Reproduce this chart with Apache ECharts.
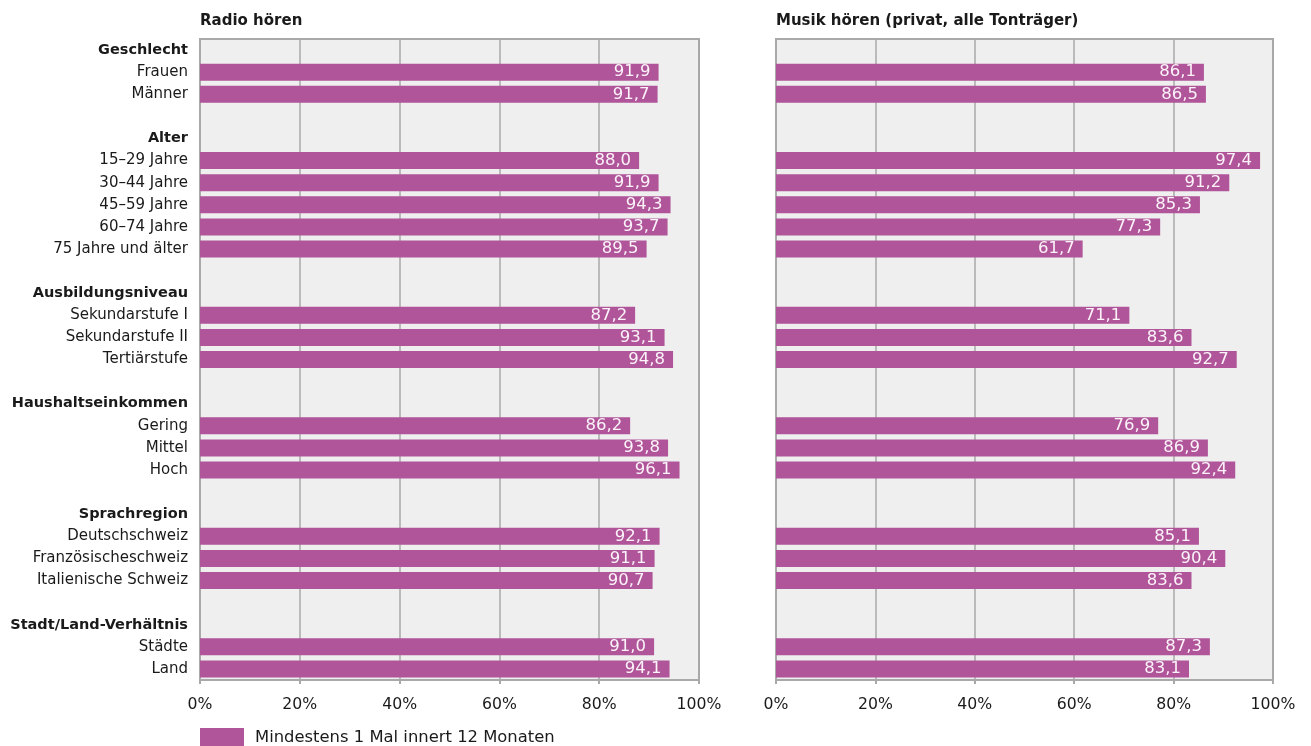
<!DOCTYPE html>
<html>
<head>
<meta charset="utf-8">
<script src="https://cdn.jsdelivr.net/npm/echarts@6/dist/echarts.min.js"></script>
<style>
  html, body { margin: 0; padding: 0; background: #ffffff; }
  #chart { width: 1311px; height: 746px; }
</style>
</head>
<body>
<div id="chart"></div>
<script>
// Group headings and their rows
const groupTitles = ['Geschlecht', 'Alter', 'Ausbildungsniveau', 'Haushaltseinkommen', 'Sprachregion', 'Stadt/Land-Verhältnis'];
const groupItems = [
  ['Frauen', 'Männer'],
  ['15–29 Jahre', '30–44 Jahre', '45–59 Jahre', '60–74 Jahre', '75 Jahre und älter'],
  ['Sekundarstufe I', 'Sekundarstufe II', 'Tertiärstufe'],
  ['Gering', 'Mittel', 'Hoch'],
  ['Deutschschweiz', 'Französischeschweiz', 'Italienische Schweiz'],
  ['Städte', 'Land']
];
// Share (%) with at least one occurrence within 12 months
const radioValues = [
  [91.9, 91.7],
  [88.0, 91.9, 94.3, 93.7, 89.5],
  [87.2, 93.1, 94.8],
  [86.2, 93.8, 96.1],
  [92.1, 91.1, 90.7],
  [91.0, 94.1]
];
const musicValues = [
  [86.1, 86.5],
  [97.4, 91.2, 85.3, 77.3, 61.7],
  [71.1, 83.6, 92.7],
  [76.9, 86.9, 92.4],
  [85.1, 90.4, 83.6],
  [87.3, 83.1]
];
const panelTitles = ['Radio hören', 'Musik hören (privat, alle Tonträger)'];
const seriesName = 'Mindestens 1 Mal innert 12 Monaten';
const xTicks = [0, 20, 40, 60, 80, 100];

// Flatten into rows: heading, items, spacer between groups
const categories = [];
const radioRows = [];
const musicRows = [];
const headerSet = new Set(groupTitles);
groupTitles.forEach((t, g) => {
  if (g > 0) { categories.push(' '.repeat(g)); radioRows.push(null); musicRows.push(null); }
  categories.push(t); radioRows.push(null); musicRows.push(null);
  groupItems[g].forEach((name, i) => {
    categories.push(name);
    radioRows.push(radioValues[g][i]);
    musicRows.push(musicValues[g][i]);
  });
});

const FONT = 'DejaVu Sans';
const TEXT = '#1a1a1a';
const BAR = '#b05599';
const GRID_LINE = '#a9a9a9';

function xAxis(gridIndex) {
  return {
    type: 'value', gridIndex, min: xTicks[0], max: xTicks[xTicks.length - 1], interval: 20,
    axisLine: { show: true, lineStyle: { color: GRID_LINE, width: 2 } },
    axisTick: { show: true, length: 4, lineStyle: { color: GRID_LINE, width: 2 } },
    splitLine: { show: true, lineStyle: { color: GRID_LINE, width: 1.5 } },
    axisLabel: { formatter: v => v + '%', color: TEXT, fontFamily: FONT, fontSize: 15.7, margin: 17 }
  };
}
function yAxis(gridIndex, showLabels) {
  return {
    type: 'category', gridIndex, data: categories, inverse: true,
    axisLine: { show: true, lineStyle: { color: GRID_LINE, width: 2 } },
    axisTick: { show: false },
    axisLabel: {
      show: showLabels, margin: 12, fontFamily: FONT, fontSize: 15, color: TEXT,
      formatter: v => headerSet.has(v) ? '{h|' + v + '}' : v,
      rich: { h: { fontFamily: FONT, fontSize: 14.5, fontWeight: 'bold', color: TEXT } }
    }
  };
}
function barSeries(idx, data) {
  return {
    name: seriesName, type: 'bar', xAxisIndex: idx, yAxisIndex: idx, data,
    barWidth: 17, itemStyle: { color: BAR },
    label: {
      show: true, position: 'insideRight', distance: 8, color: '#fbf3f9',
      fontFamily: FONT, fontSize: 16.5,
      formatter: p => p.value == null ? '' : p.value.toFixed(1).replace('.', ',')
    },
    animation: false
  };
}

const titleStyle = { fontFamily: FONT, fontSize: 15, fontWeight: 'bold', color: TEXT };

const chart = echarts.init(document.getElementById('chart'), null, { renderer: 'canvas' });
chart.setOption({
  backgroundColor: '#ffffff',
  animation: false,
  title: [
    { text: panelTitles[0], left: 195, top: 9, textStyle: titleStyle },
    { text: panelTitles[1], left: 771, top: 9, textStyle: titleStyle }
  ],
  legend: {
    data: [seriesName], left: 195, top: 723, itemWidth: 44, itemHeight: 19,
    icon: 'rect',
    textStyle: { fontFamily: FONT, fontSize: 16.4, color: TEXT, padding: [0, 0, 0, 6] }
  },
  grid: [
    { left: 200, right: 612, top: 39, bottom: 66, show: true, backgroundColor: '#efefef', borderColor: GRID_LINE, borderWidth: 2 },
    { left: 776, right: 38, top: 39, bottom: 66, show: true, backgroundColor: '#efefef', borderColor: GRID_LINE, borderWidth: 2 }
  ],
  xAxis: [xAxis(0), xAxis(1)],
  yAxis: [yAxis(0, true), yAxis(1, false)],
  series: [barSeries(0, radioRows), barSeries(1, musicRows)]
});
</script>
</body>
</html>
